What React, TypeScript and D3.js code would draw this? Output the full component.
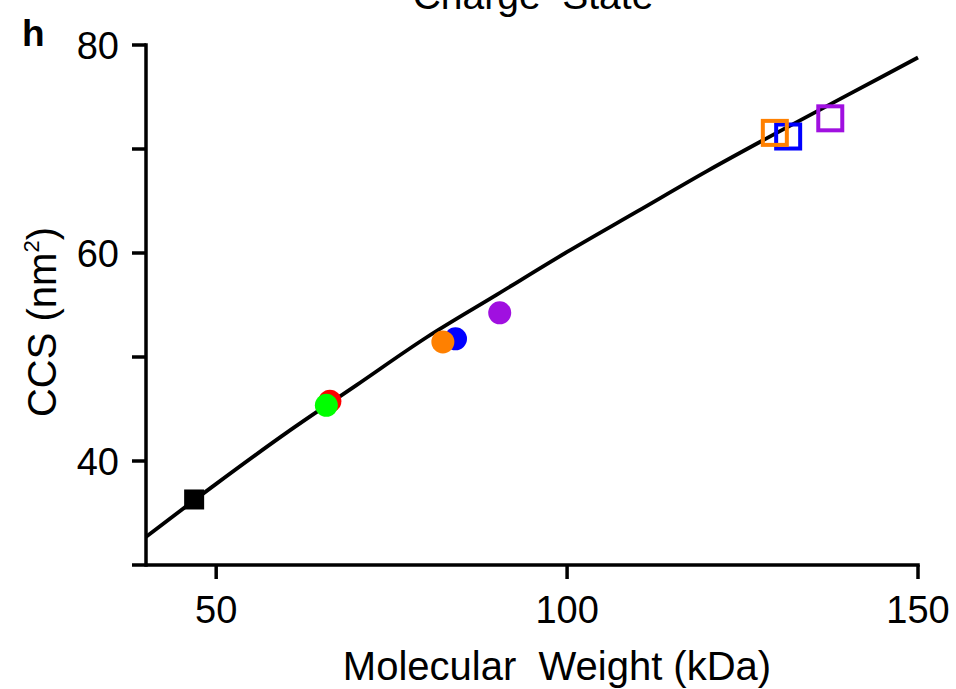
import React from "react";
import * as d3 from "d3";

const W = 956;
const H = 689;

// Fit curve
const fitMW = [40, 50, 60, 70, 80, 90, 100, 110, 120, 130, 140, 150];
const fitCCS = [32.7, 37.8, 42.7, 47.3, 51.9, 56.0, 60.1, 64.0, 67.9, 71.6, 75.2, 78.8];

// Filled circles (draw order)
const circleMW = [66.2, 65.7, 84.1, 82.3, 90.4];
const circleCCS = [45.75, 45.35, 51.75, 51.45, 54.25];
const circleColors = ["#ff0000", "#00ff00", "#0000ff", "#ff8000", "#a010e0"];

// Open squares (draw order)
const openMW = [131.5, 129.6, 137.5];
const openCCS = [71.2, 71.55, 72.95];
const openColors = ["#0000ff", "#ff8000", "#a010e0"];

// Filled black square
const refMW = [46.86];
const refCCS = [36.3];

const xTicks = [50, 100, 150];
const yTicksMajor = [40, 60, 80];
const yTicksAll = [30, 40, 50, 60, 70, 80];

const FONT = "'Liberation Sans', Arial, Helvetica, sans-serif";

export default function App() {
  const x = d3.scaleLinear().domain([40, 150]).range([146, 918]);
  const y = d3.scaleLinear().domain([30, 80]).range([565, 45]);

  const line = d3
    .line<number>()
    .x((_, i) => x(fitMW[i]))
    .y((d) => y(d))
    .curve(d3.curveMonotoneX);

  const tickLen = 14;
  const axisW = 3.5;

  return (
    <svg
      width={W}
      height={H}
      style={{ position: "absolute", left: 0, top: 0, display: "block", background: "#fff" }}
      fontFamily={FONT}
    >
      {/* title (cut off at top in the original) */}
      <text x={533} y={9} fontSize={39} textAnchor="middle" fill="#000" style={{ whiteSpace: "pre" }}>
        {"Charge  State"}
      </text>
      <text x={22} y={46} fontSize={37} fontWeight="bold" fill="#000">
        h
      </text>

      {/* fit line */}
      <path d={line(fitCCS) || ""} fill="none" stroke="#000" strokeWidth={3.8} />

      {/* y axis */}
      <line x1={x(40)} x2={x(40)} y1={y(80) - 1.75} y2={y(30) + 1.75} stroke="#000" strokeWidth={axisW} />
      {yTicksAll.map((t) => (
        <line key={"yt" + t} x1={x(40) - tickLen} x2={x(40)} y1={y(t)} y2={y(t)} stroke="#000" strokeWidth={axisW} />
      ))}
      {yTicksMajor.map((t) => (
        <text key={"yl" + t} x={x(40) - 27} y={y(t)} dy="0.36em" fontSize={38} textAnchor="end" fill="#000">
          {t}
        </text>
      ))}

      {/* x axis */}
      <line x1={x(40)} x2={x(150) + 1.75} y1={y(30)} y2={y(30)} stroke="#000" strokeWidth={axisW} />
      {xTicks.map((t) => (
        <line key={"xt" + t} x1={x(t)} x2={x(t)} y1={y(30)} y2={y(30) + tickLen} stroke="#000" strokeWidth={axisW} />
      ))}
      {xTicks.map((t) => (
        <text key={"xl" + t} x={x(t)} y={623} fontSize={38} textAnchor="middle" fill="#000">
          {t}
        </text>
      ))}

      {/* axis titles */}
      <text x={557} y={680} fontSize={40} textAnchor="middle" fill="#000" style={{ whiteSpace: "pre" }}>
        {"Molecular  Weight (kDa)"}
      </text>
      <text transform="translate(56,322) rotate(-90)" fontSize={40} textAnchor="middle" fill="#000">
        CCS (nm<tspan fontSize={22} dy={-17}>2</tspan>
        <tspan dy={17}>)</tspan>
      </text>

      {/* reference filled square */}
      {refMW.map((m, i) => (
        <rect key={"ref" + i} x={x(m) - 10} y={y(refCCS[i]) - 10} width={20} height={20} fill="#000" />
      ))}

      {/* filled circles */}
      {circleMW.map((m, i) => (
        <circle key={"c" + i} cx={x(m)} cy={y(circleCCS[i])} r={11.5} fill={circleColors[i]} />
      ))}

      {/* open squares */}
      {openMW.map((m, i) => (
        <rect
          key={"o" + i}
          x={x(m) - 12}
          y={y(openCCS[i]) - 12}
          width={24}
          height={24}
          fill="none"
          stroke={openColors[i]}
          strokeWidth={4}
        />
      ))}
    </svg>
  );
}
